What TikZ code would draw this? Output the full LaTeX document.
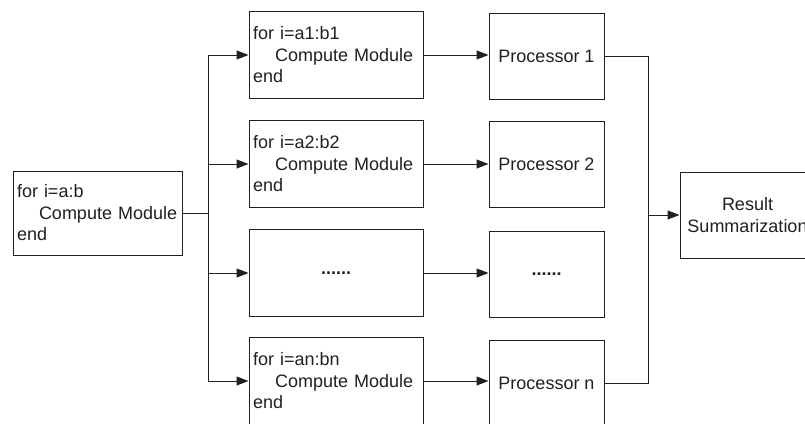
\documentclass[tikz,border=0pt]{standalone}
\usepackage{fontspec}
\setmainfont{Liberation Sans}
\usetikzlibrary{arrows.meta}
\definecolor{ink}{RGB}{35,31,32}
\tikzset{
  box/.style={draw=ink, line width=1pt, text=ink, inner xsep=4pt, inner ysep=0pt,
    font=\fontsize{18}{21.5}\selectfont},
  loopbox/.style={box, text width=166pt, minimum height=87pt, align=left},
  procbox/.style={box, minimum width=115pt, minimum height=86pt, align=center},
  link/.style={draw=ink, line width=1pt},
  arr/.style={link, -{Triangle[length=12pt,width=9pt]}}
}
\newcommand{\loopbody}[1]{for i=#1\\\hspace*{22pt}Compute Module\\end}
\begin{document}
\begin{tikzpicture}[x=1pt,y=-1pt]
\useasboundingbox (0,0) rectangle (805,423);

% whole loop on the left
\node[loopbox, text width=161pt, minimum height=84pt] (S) at (97.5,213) {\loopbody{a:b}};

% split loops
\node[loopbox] (C1) at (336,55) {\loopbody{a1:b1}};
\node[loopbox] (C2) at (336,164) {\loopbody{a2:b2}};
\node[loopbox, align=center] (C3) at (336,273) {\textbf{......}};
\node[loopbox] (Cn) at (336,381) {\loopbody{an:bn}};

% processors
\node[procbox] (P1) at (546.5,56) {Processor 1};
\node[procbox] (P2) at (546.5,164) {Processor 2};
\node[procbox] (P3) at (546.5,274.5) {\textbf{......}};
\node[procbox] (Pn) at (546.5,383) {Processor n};

\node[procbox, minimum width=135pt] (R) at (747.5,215) {Result\\Summarization};

% fan out
\coordinate (F) at (208,0);
\draw[link] (S.east) -- (S.east -| F);
\draw[link] (C1.west -| F) -- (Cn.west -| F);
\foreach \c in {C1,C2,C3,Cn}
  \draw[arr] (\c.west -| F) -- (\c.west);

% loops to processors
\foreach \c/\p in {C1/P1,C2/P2,C3/P3,Cn/Pn}
  \draw[arr] (\c.east) -- (\c.east -| \p.west);

% gather results
\coordinate (G) at (648,0);
\draw[link] (P1.east) -| (G |- R.west);
\draw[link] (Pn.east) -| (G |- R.west);
\draw[arr] (G |- R.west) -- (R.west);

\end{tikzpicture}
\end{document}
